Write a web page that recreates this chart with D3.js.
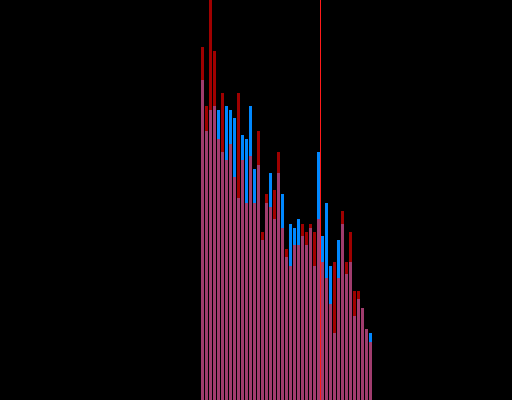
<!DOCTYPE html>
<html>
<head>
<meta charset="utf-8">
<script src="https://cdn.jsdelivr.net/npm/d3@7"></script>
<style>
html,body{margin:0;padding:0;background:#000;}
svg{display:block;}
</style>
</head>
<body>
<script>
const bins = d3.range(43);
const seriesA = [88.25,73.5,102.5,87.25,65.25,76.75,60,64,55.75,76.75,60,49.25,61,49.25,67.25,42,51.5,48.25,52.5,62,43,37.75,33.5,38.75,38.75,44,42,44,42,45.25,34.5,30.5,24,34.5,30.5,47.25,34.5,42,27.25,27.25,23,17.75,14.5];
const seriesB = [80,67.25,72.5,73.5,72.5,62,73.5,72.5,70.5,50.5,66.25,65.25,73.5,57.75,58.75,40,49.25,56.75,45.25,56.75,51.5,35.75,44,43,45.25,41,38.75,43,33.5,62,41,49.25,33.5,16.75,40,44,31.5,34.5,21,25.25,23,17.75,16.75];
const markerValue = 29.75;

const W = 512, H = 400;
const colA = "#a00000", colB = "#0088ff", colBoth = "#a03c6e", colLine = "#ff1a1a";

const svg = d3.select("body").append("svg").attr("width", W).attr("height", H);
svg.append("rect").attr("width", W).attr("height", H).attr("fill", "#000");

const x = d3.scaleLinear().domain([0, bins.length]).range([201, 373]);
const y = d3.scaleLinear().domain([0, 100]).range([H, 0]);

const data = bins.map(i => ({i, a: seriesA[i], b: seriesB[i]}));

const g = svg.append("g");
// taller series first
g.selectAll("rect.top").data(data).join("rect")
  .attr("class", "top")
  .attr("x", d => x(d.i))
  .attr("width", d => x(d.i + 1) - x(d.i) - 1)
  .attr("y", d => y(Math.max(d.a, d.b)))
  .attr("height", d => y(0) - y(Math.max(d.a, d.b)))
  .attr("fill", d => d.a >= d.b ? colA : colB);
// overlap
g.selectAll("rect.both").data(data).join("rect")
  .attr("class", "both")
  .attr("x", d => x(d.i))
  .attr("width", d => x(d.i + 1) - x(d.i) - 1)
  .attr("y", d => y(Math.min(d.a, d.b)))
  .attr("height", d => y(0) - y(Math.min(d.a, d.b)))
  .attr("fill", colBoth);

svg.append("line")
  .attr("x1", x(markerValue) + 0.5).attr("x2", x(markerValue) + 0.5)
  .attr("y1", 0).attr("y2", H)
  .attr("stroke", colLine).attr("stroke-width", 1);
</script>
</body>
</html>
